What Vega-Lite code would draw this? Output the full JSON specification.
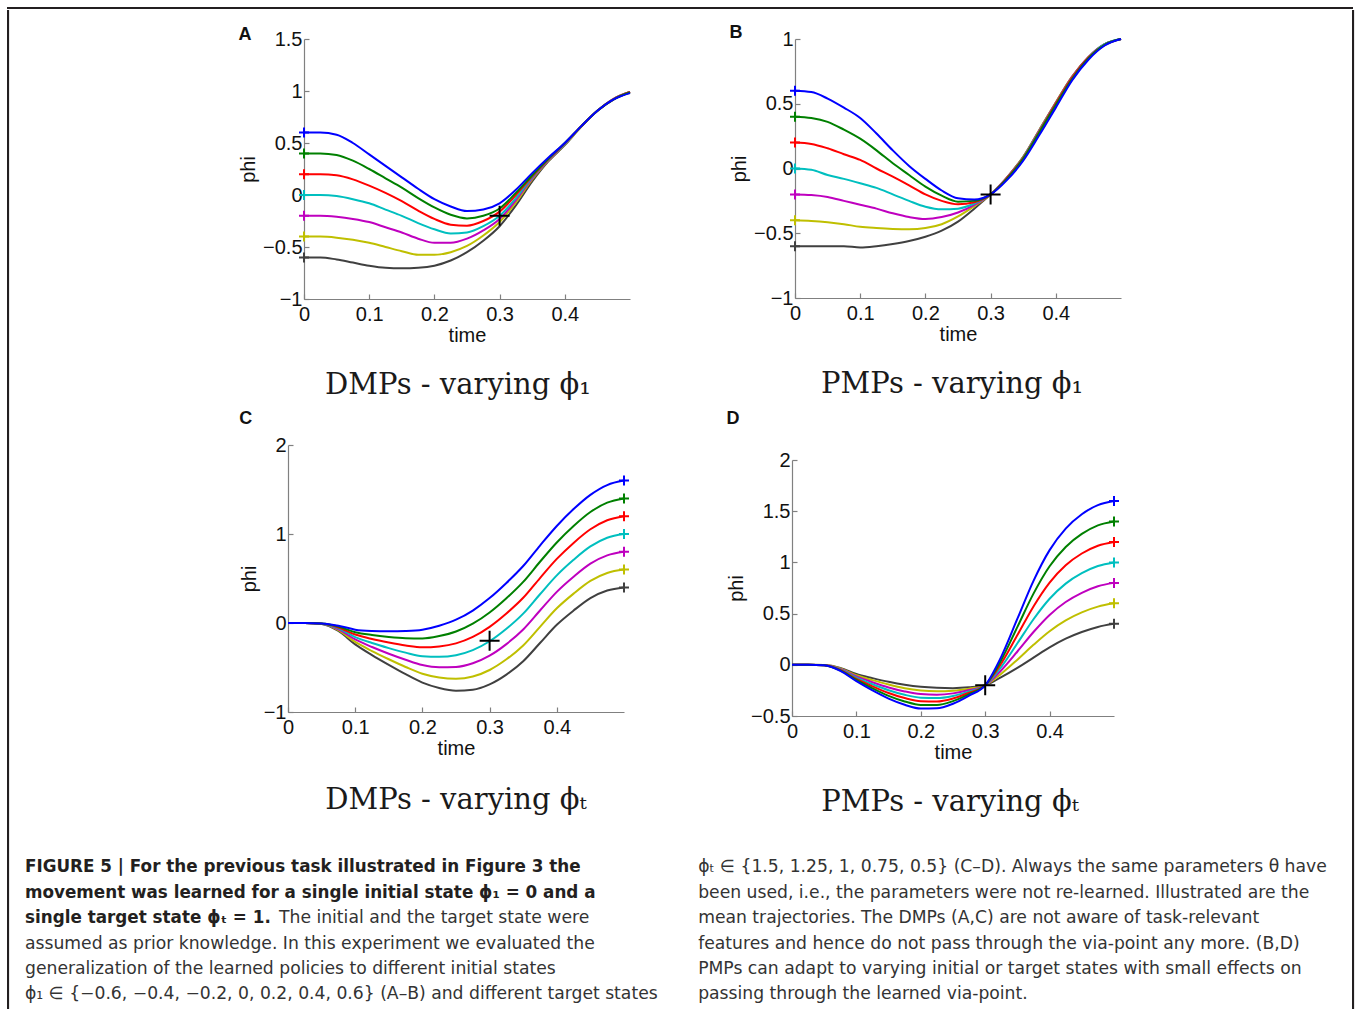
{
"$schema": "https://vega.github.io/schema/vega-lite/v6.json",
"background": "white",
"padding": {"left": 7, "top": 7, "right": 0, "bottom": 0},
"config": {
  "font": "Liberation Sans",
  "view": {"stroke": null},
  "axis": {"grid": false, "domainColor": "#808080", "domainWidth": 1.2, "tickColor": "#808080", "tickWidth": 1.2, "tickSize": -5, "labelFont": "Liberation Sans", "labelFontSize": 20, "labelColor": "#111", "titleFont": "Liberation Sans", "titleFontSize": 20, "titleFontWeight": "normal", "titleColor": "#111", "labelOverlap": false, "labelFlush": false, "labelBound": false},
  "axisX": {"labelPadding": 10, "titlePadding": 1},
  "axisY": {"labelPadding": 7, "titlePadding": 4},
  "point": {"opacity": 1}
},
"datasets": {
"A": [
{"s":0,"t":0,"v":-0.6},{"s":0,"t":0.025,"v":-0.6},{"s":0,"t":0.05,"v":-0.62},{"s":0,"t":0.075,"v":-0.65},{"s":0,"t":0.1,"v":-0.68},{"s":0,"t":0.125,"v":-0.7},{"s":0,"t":0.15,"v":-0.705},{"s":0,"t":0.175,"v":-0.7},{"s":0,"t":0.2,"v":-0.68},{"s":0,"t":0.225,"v":-0.63},{"s":0,"t":0.25,"v":-0.55},{"s":0,"t":0.275,"v":-0.44},{"s":0,"t":0.3,"v":-0.3},{"s":0,"t":0.325,"v":-0.1},{"s":0,"t":0.35,"v":0.13},{"s":0,"t":0.375,"v":0.325},{"s":0,"t":0.4,"v":0.48},{"s":0,"t":0.425,"v":0.655},{"s":0,"t":0.45,"v":0.81},{"s":0,"t":0.475,"v":0.925},{"s":0,"t":0.5,"v":0.99},
{"s":1,"t":0,"v":-0.4},{"s":1,"t":0.025,"v":-0.4},{"s":1,"t":0.05,"v":-0.41},{"s":1,"t":0.075,"v":-0.43},{"s":1,"t":0.1,"v":-0.46},{"s":1,"t":0.125,"v":-0.5},{"s":1,"t":0.15,"v":-0.54},{"s":1,"t":0.175,"v":-0.575},{"s":1,"t":0.2,"v":-0.575},{"s":1,"t":0.225,"v":-0.55},{"s":1,"t":0.25,"v":-0.49},{"s":1,"t":0.275,"v":-0.39},{"s":1,"t":0.3,"v":-0.26},{"s":1,"t":0.325,"v":-0.07},{"s":1,"t":0.35,"v":0.15},{"s":1,"t":0.375,"v":0.33},{"s":1,"t":0.4,"v":0.485},{"s":1,"t":0.425,"v":0.655},{"s":1,"t":0.45,"v":0.81},{"s":1,"t":0.475,"v":0.925},{"s":1,"t":0.5,"v":0.99},
{"s":2,"t":0,"v":-0.2},{"s":2,"t":0.025,"v":-0.2},{"s":2,"t":0.05,"v":-0.21},{"s":2,"t":0.075,"v":-0.23},{"s":2,"t":0.1,"v":-0.26},{"s":2,"t":0.125,"v":-0.31},{"s":2,"t":0.15,"v":-0.36},{"s":2,"t":0.175,"v":-0.42},{"s":2,"t":0.2,"v":-0.46},{"s":2,"t":0.225,"v":-0.46},{"s":2,"t":0.25,"v":-0.42},{"s":2,"t":0.275,"v":-0.34},{"s":2,"t":0.3,"v":-0.23},{"s":2,"t":0.325,"v":-0.05},{"s":2,"t":0.35,"v":0.16},{"s":2,"t":0.375,"v":0.335},{"s":2,"t":0.4,"v":0.49},{"s":2,"t":0.425,"v":0.66},{"s":2,"t":0.45,"v":0.81},{"s":2,"t":0.475,"v":0.925},{"s":2,"t":0.5,"v":0.99},
{"s":3,"t":0,"v":0},{"s":3,"t":0.025,"v":0},{"s":3,"t":0.05,"v":-0.01},{"s":3,"t":0.075,"v":-0.04},{"s":3,"t":0.1,"v":-0.08},{"s":3,"t":0.125,"v":-0.14},{"s":3,"t":0.15,"v":-0.2},{"s":3,"t":0.175,"v":-0.27},{"s":3,"t":0.2,"v":-0.33},{"s":3,"t":0.225,"v":-0.37},{"s":3,"t":0.25,"v":-0.36},{"s":3,"t":0.275,"v":-0.3},{"s":3,"t":0.3,"v":-0.2},{"s":3,"t":0.325,"v":-0.03},{"s":3,"t":0.35,"v":0.17},{"s":3,"t":0.375,"v":0.34},{"s":3,"t":0.4,"v":0.49},{"s":3,"t":0.425,"v":0.66},{"s":3,"t":0.45,"v":0.81},{"s":3,"t":0.475,"v":0.92},{"s":3,"t":0.5,"v":0.99},
{"s":4,"t":0,"v":0.2},{"s":4,"t":0.025,"v":0.2},{"s":4,"t":0.05,"v":0.19},{"s":4,"t":0.075,"v":0.15},{"s":4,"t":0.1,"v":0.09},{"s":4,"t":0.125,"v":0.02},{"s":4,"t":0.15,"v":-0.06},{"s":4,"t":0.175,"v":-0.15},{"s":4,"t":0.2,"v":-0.23},{"s":4,"t":0.225,"v":-0.285},{"s":4,"t":0.25,"v":-0.295},{"s":4,"t":0.275,"v":-0.25},{"s":4,"t":0.3,"v":-0.16},{"s":4,"t":0.325,"v":0},{"s":4,"t":0.35,"v":0.18},{"s":4,"t":0.375,"v":0.345},{"s":4,"t":0.4,"v":0.495},{"s":4,"t":0.425,"v":0.66},{"s":4,"t":0.45,"v":0.81},{"s":4,"t":0.475,"v":0.92},{"s":4,"t":0.5,"v":0.99},
{"s":5,"t":0,"v":0.4},{"s":5,"t":0.025,"v":0.4},{"s":5,"t":0.05,"v":0.385},{"s":5,"t":0.075,"v":0.33},{"s":5,"t":0.1,"v":0.25},{"s":5,"t":0.125,"v":0.16},{"s":5,"t":0.15,"v":0.07},{"s":5,"t":0.175,"v":-0.03},{"s":5,"t":0.2,"v":-0.12},{"s":5,"t":0.225,"v":-0.19},{"s":5,"t":0.25,"v":-0.225},{"s":5,"t":0.275,"v":-0.2},{"s":5,"t":0.3,"v":-0.13},{"s":5,"t":0.325,"v":0.02},{"s":5,"t":0.35,"v":0.19},{"s":5,"t":0.375,"v":0.35},{"s":5,"t":0.4,"v":0.5},{"s":5,"t":0.425,"v":0.66},{"s":5,"t":0.45,"v":0.81},{"s":5,"t":0.475,"v":0.92},{"s":5,"t":0.5,"v":0.985},
{"s":6,"t":0,"v":0.6},{"s":6,"t":0.025,"v":0.6},{"s":6,"t":0.05,"v":0.58},{"s":6,"t":0.075,"v":0.5},{"s":6,"t":0.1,"v":0.39},{"s":6,"t":0.125,"v":0.28},{"s":6,"t":0.15,"v":0.17},{"s":6,"t":0.175,"v":0.06},{"s":6,"t":0.2,"v":-0.04},{"s":6,"t":0.225,"v":-0.11},{"s":6,"t":0.25,"v":-0.155},{"s":6,"t":0.275,"v":-0.14},{"s":6,"t":0.3,"v":-0.08},{"s":6,"t":0.325,"v":0.05},{"s":6,"t":0.35,"v":0.21},{"s":6,"t":0.375,"v":0.36},{"s":6,"t":0.4,"v":0.5},{"s":6,"t":0.425,"v":0.66},{"s":6,"t":0.45,"v":0.81},{"s":6,"t":0.475,"v":0.92},{"s":6,"t":0.5,"v":0.98}
],
"B": [
{"s":0,"t":0,"v":-0.6},{"s":0,"t":0.025,"v":-0.6},{"s":0,"t":0.05,"v":-0.6},{"s":0,"t":0.075,"v":-0.6},{"s":0,"t":0.1,"v":-0.61},{"s":0,"t":0.125,"v":-0.6},{"s":0,"t":0.15,"v":-0.583},{"s":0,"t":0.175,"v":-0.56},{"s":0,"t":0.2,"v":-0.527},{"s":0,"t":0.225,"v":-0.48},{"s":0,"t":0.25,"v":-0.41},{"s":0,"t":0.275,"v":-0.31},{"s":0,"t":0.3,"v":-0.2},{"s":0,"t":0.325,"v":-0.07},{"s":0,"t":0.35,"v":0.09},{"s":0,"t":0.375,"v":0.3},{"s":0,"t":0.4,"v":0.51},{"s":0,"t":0.425,"v":0.71},{"s":0,"t":0.45,"v":0.86},{"s":0,"t":0.475,"v":0.96},{"s":0,"t":0.5,"v":1},
{"s":1,"t":0,"v":-0.4},{"s":1,"t":0.025,"v":-0.405},{"s":1,"t":0.05,"v":-0.415},{"s":1,"t":0.075,"v":-0.43},{"s":1,"t":0.1,"v":-0.45},{"s":1,"t":0.125,"v":-0.46},{"s":1,"t":0.15,"v":-0.467},{"s":1,"t":0.175,"v":-0.47},{"s":1,"t":0.2,"v":-0.46},{"s":1,"t":0.225,"v":-0.43},{"s":1,"t":0.25,"v":-0.37},{"s":1,"t":0.275,"v":-0.29},{"s":1,"t":0.3,"v":-0.2},{"s":1,"t":0.325,"v":-0.07},{"s":1,"t":0.35,"v":0.09},{"s":1,"t":0.375,"v":0.3},{"s":1,"t":0.4,"v":0.51},{"s":1,"t":0.425,"v":0.71},{"s":1,"t":0.45,"v":0.86},{"s":1,"t":0.475,"v":0.96},{"s":1,"t":0.5,"v":1},
{"s":2,"t":0,"v":-0.2},{"s":2,"t":0.025,"v":-0.205},{"s":2,"t":0.05,"v":-0.22},{"s":2,"t":0.075,"v":-0.25},{"s":2,"t":0.1,"v":-0.28},{"s":2,"t":0.125,"v":-0.31},{"s":2,"t":0.15,"v":-0.346},{"s":2,"t":0.175,"v":-0.375},{"s":2,"t":0.2,"v":-0.39},{"s":2,"t":0.225,"v":-0.375},{"s":2,"t":0.25,"v":-0.34},{"s":2,"t":0.275,"v":-0.28},{"s":2,"t":0.3,"v":-0.2},{"s":2,"t":0.325,"v":-0.07},{"s":2,"t":0.35,"v":0.085},{"s":2,"t":0.375,"v":0.295},{"s":2,"t":0.4,"v":0.505},{"s":2,"t":0.425,"v":0.705},{"s":2,"t":0.45,"v":0.86},{"s":2,"t":0.475,"v":0.96},{"s":2,"t":0.5,"v":1},
{"s":3,"t":0,"v":0},{"s":3,"t":0.025,"v":-0.01},{"s":3,"t":0.05,"v":-0.05},{"s":3,"t":0.075,"v":-0.08},{"s":3,"t":0.1,"v":-0.114},{"s":3,"t":0.125,"v":-0.15},{"s":3,"t":0.15,"v":-0.2},{"s":3,"t":0.175,"v":-0.25},{"s":3,"t":0.2,"v":-0.295},{"s":3,"t":0.225,"v":-0.315},{"s":3,"t":0.25,"v":-0.31},{"s":3,"t":0.275,"v":-0.27},{"s":3,"t":0.3,"v":-0.2},{"s":3,"t":0.325,"v":-0.075},{"s":3,"t":0.35,"v":0.085},{"s":3,"t":0.375,"v":0.29},{"s":3,"t":0.4,"v":0.5},{"s":3,"t":0.425,"v":0.7},{"s":3,"t":0.45,"v":0.855},{"s":3,"t":0.475,"v":0.96},{"s":3,"t":0.5,"v":1},
{"s":4,"t":0,"v":0.2},{"s":4,"t":0.025,"v":0.19},{"s":4,"t":0.05,"v":0.156},{"s":4,"t":0.075,"v":0.11},{"s":4,"t":0.1,"v":0.066},{"s":4,"t":0.125,"v":0},{"s":4,"t":0.15,"v":-0.063},{"s":4,"t":0.175,"v":-0.13},{"s":4,"t":0.2,"v":-0.2},{"s":4,"t":0.225,"v":-0.25},{"s":4,"t":0.25,"v":-0.276},{"s":4,"t":0.275,"v":-0.26},{"s":4,"t":0.3,"v":-0.2},{"s":4,"t":0.325,"v":-0.075},{"s":4,"t":0.35,"v":0.08},{"s":4,"t":0.375,"v":0.285},{"s":4,"t":0.4,"v":0.5},{"s":4,"t":0.425,"v":0.7},{"s":4,"t":0.45,"v":0.855},{"s":4,"t":0.475,"v":0.955},{"s":4,"t":0.5,"v":1},
{"s":5,"t":0,"v":0.4},{"s":5,"t":0.025,"v":0.39},{"s":5,"t":0.05,"v":0.36},{"s":5,"t":0.075,"v":0.3},{"s":5,"t":0.1,"v":0.23},{"s":5,"t":0.125,"v":0.14},{"s":5,"t":0.15,"v":0.04},{"s":5,"t":0.175,"v":-0.05},{"s":5,"t":0.2,"v":-0.14},{"s":5,"t":0.225,"v":-0.21},{"s":5,"t":0.25,"v":-0.256},{"s":5,"t":0.275,"v":-0.25},{"s":5,"t":0.3,"v":-0.2},{"s":5,"t":0.325,"v":-0.08},{"s":5,"t":0.35,"v":0.075},{"s":5,"t":0.375,"v":0.28},{"s":5,"t":0.4,"v":0.49},{"s":5,"t":0.425,"v":0.69},{"s":5,"t":0.45,"v":0.85},{"s":5,"t":0.475,"v":0.955},{"s":5,"t":0.5,"v":1},
{"s":6,"t":0,"v":0.6},{"s":6,"t":0.025,"v":0.59},{"s":6,"t":0.05,"v":0.54},{"s":6,"t":0.075,"v":0.47},{"s":6,"t":0.1,"v":0.39},{"s":6,"t":0.125,"v":0.27},{"s":6,"t":0.15,"v":0.14},{"s":6,"t":0.175,"v":0.02},{"s":6,"t":0.2,"v":-0.08},{"s":6,"t":0.225,"v":-0.17},{"s":6,"t":0.25,"v":-0.23},{"s":6,"t":0.275,"v":-0.24},{"s":6,"t":0.3,"v":-0.2},{"s":6,"t":0.325,"v":-0.09},{"s":6,"t":0.35,"v":0.06},{"s":6,"t":0.375,"v":0.26},{"s":6,"t":0.4,"v":0.47},{"s":6,"t":0.425,"v":0.68},{"s":6,"t":0.45,"v":0.84},{"s":6,"t":0.475,"v":0.95},{"s":6,"t":0.5,"v":1}
],
"C": [
{"s":0,"t":0,"v":0},{"s":0,"t":0.025,"v":0},{"s":0,"t":0.05,"v":-0.01},{"s":0,"t":0.075,"v":-0.09},{"s":0,"t":0.1,"v":-0.24},{"s":0,"t":0.125,"v":-0.36},{"s":0,"t":0.15,"v":-0.47},{"s":0,"t":0.175,"v":-0.575},{"s":0,"t":0.2,"v":-0.67},{"s":0,"t":0.225,"v":-0.73},{"s":0,"t":0.25,"v":-0.76},{"s":0,"t":0.275,"v":-0.75},{"s":0,"t":0.3,"v":-0.69},{"s":0,"t":0.325,"v":-0.58},{"s":0,"t":0.35,"v":-0.43},{"s":0,"t":0.375,"v":-0.225},{"s":0,"t":0.4,"v":-0.02},{"s":0,"t":0.425,"v":0.14},{"s":0,"t":0.45,"v":0.28},{"s":0,"t":0.475,"v":0.365},{"s":0,"t":0.5,"v":0.4},
{"s":1,"t":0,"v":0},{"s":1,"t":0.025,"v":0},{"s":1,"t":0.05,"v":-0.009},{"s":1,"t":0.075,"v":-0.08},{"s":1,"t":0.1,"v":-0.213},{"s":1,"t":0.125,"v":-0.315},{"s":1,"t":0.15,"v":-0.407},{"s":1,"t":0.175,"v":-0.494},{"s":1,"t":0.2,"v":-0.571},{"s":1,"t":0.225,"v":-0.613},{"s":1,"t":0.25,"v":-0.627},{"s":1,"t":0.275,"v":-0.602},{"s":1,"t":0.3,"v":-0.528},{"s":1,"t":0.325,"v":-0.408},{"s":1,"t":0.35,"v":-0.252},{"s":1,"t":0.375,"v":-0.043},{"s":1,"t":0.4,"v":0.165},{"s":1,"t":0.425,"v":0.33},{"s":1,"t":0.45,"v":0.473},{"s":1,"t":0.475,"v":0.562},{"s":1,"t":0.5,"v":0.6},
{"s":2,"t":0,"v":0},{"s":2,"t":0.025,"v":0},{"s":2,"t":0.05,"v":-0.008},{"s":2,"t":0.075,"v":-0.07},{"s":2,"t":0.1,"v":-0.185},{"s":2,"t":0.125,"v":-0.27},{"s":2,"t":0.15,"v":-0.345},{"s":2,"t":0.175,"v":-0.413},{"s":2,"t":0.2,"v":-0.472},{"s":2,"t":0.225,"v":-0.497},{"s":2,"t":0.25,"v":-0.494},{"s":2,"t":0.275,"v":-0.453},{"s":2,"t":0.3,"v":-0.367},{"s":2,"t":0.325,"v":-0.237},{"s":2,"t":0.35,"v":-0.073},{"s":2,"t":0.375,"v":0.14},{"s":2,"t":0.4,"v":0.35},{"s":2,"t":0.425,"v":0.52},{"s":2,"t":0.45,"v":0.667},{"s":2,"t":0.475,"v":0.76},{"s":2,"t":0.5,"v":0.8},
{"s":3,"t":0,"v":0},{"s":3,"t":0.025,"v":0},{"s":3,"t":0.05,"v":-0.008},{"s":3,"t":0.075,"v":-0.06},{"s":3,"t":0.1,"v":-0.158},{"s":3,"t":0.125,"v":-0.225},{"s":3,"t":0.15,"v":-0.282},{"s":3,"t":0.175,"v":-0.333},{"s":3,"t":0.2,"v":-0.373},{"s":3,"t":0.225,"v":-0.38},{"s":3,"t":0.25,"v":-0.362},{"s":3,"t":0.275,"v":-0.305},{"s":3,"t":0.3,"v":-0.205},{"s":3,"t":0.325,"v":-0.065},{"s":3,"t":0.35,"v":0.105},{"s":3,"t":0.375,"v":0.323},{"s":3,"t":0.4,"v":0.535},{"s":3,"t":0.425,"v":0.71},{"s":3,"t":0.45,"v":0.86},{"s":3,"t":0.475,"v":0.958},{"s":3,"t":0.5,"v":1},
{"s":4,"t":0,"v":0},{"s":4,"t":0.025,"v":0},{"s":4,"t":0.05,"v":-0.007},{"s":4,"t":0.075,"v":-0.05},{"s":4,"t":0.1,"v":-0.13},{"s":4,"t":0.125,"v":-0.18},{"s":4,"t":0.15,"v":-0.219},{"s":4,"t":0.175,"v":-0.252},{"s":4,"t":0.2,"v":-0.273},{"s":4,"t":0.225,"v":-0.263},{"s":4,"t":0.25,"v":-0.229},{"s":4,"t":0.275,"v":-0.157},{"s":4,"t":0.3,"v":-0.043},{"s":4,"t":0.325,"v":0.107},{"s":4,"t":0.35,"v":0.283},{"s":4,"t":0.375,"v":0.505},{"s":4,"t":0.4,"v":0.72},{"s":4,"t":0.425,"v":0.9},{"s":4,"t":0.45,"v":1.053},{"s":4,"t":0.475,"v":1.155},{"s":4,"t":0.5,"v":1.2},
{"s":5,"t":0,"v":0},{"s":5,"t":0.025,"v":0},{"s":5,"t":0.05,"v":-0.006},{"s":5,"t":0.075,"v":-0.04},{"s":5,"t":0.1,"v":-0.103},{"s":5,"t":0.125,"v":-0.135},{"s":5,"t":0.15,"v":-0.157},{"s":5,"t":0.175,"v":-0.171},{"s":5,"t":0.2,"v":-0.174},{"s":5,"t":0.225,"v":-0.147},{"s":5,"t":0.25,"v":-0.096},{"s":5,"t":0.275,"v":-0.008},{"s":5,"t":0.3,"v":0.118},{"s":5,"t":0.325,"v":0.278},{"s":5,"t":0.35,"v":0.462},{"s":5,"t":0.375,"v":0.688},{"s":5,"t":0.4,"v":0.905},{"s":5,"t":0.425,"v":1.09},{"s":5,"t":0.45,"v":1.247},{"s":5,"t":0.475,"v":1.352},{"s":5,"t":0.5,"v":1.4},
{"s":6,"t":0,"v":0},{"s":6,"t":0.025,"v":0},{"s":6,"t":0.05,"v":-0.005},{"s":6,"t":0.075,"v":-0.03},{"s":6,"t":0.1,"v":-0.075},{"s":6,"t":0.125,"v":-0.09},{"s":6,"t":0.15,"v":-0.094},{"s":6,"t":0.175,"v":-0.09},{"s":6,"t":0.2,"v":-0.075},{"s":6,"t":0.225,"v":-0.03},{"s":6,"t":0.25,"v":0.037},{"s":6,"t":0.275,"v":0.14},{"s":6,"t":0.3,"v":0.28},{"s":6,"t":0.325,"v":0.45},{"s":6,"t":0.35,"v":0.64},{"s":6,"t":0.375,"v":0.87},{"s":6,"t":0.4,"v":1.09},{"s":6,"t":0.425,"v":1.28},{"s":6,"t":0.45,"v":1.44},{"s":6,"t":0.475,"v":1.55},{"s":6,"t":0.5,"v":1.6}
],
"D": [
{"s":0,"t":0,"v":0},{"s":0,"t":0.025,"v":0},{"s":0,"t":0.05,"v":-0.003},{"s":0,"t":0.075,"v":-0.03},{"s":0,"t":0.1,"v":-0.09},{"s":0,"t":0.125,"v":-0.13},{"s":0,"t":0.15,"v":-0.166},{"s":0,"t":0.175,"v":-0.195},{"s":0,"t":0.2,"v":-0.215},{"s":0,"t":0.225,"v":-0.225},{"s":0,"t":0.25,"v":-0.228},{"s":0,"t":0.275,"v":-0.22},{"s":0,"t":0.3,"v":-0.2},{"s":0,"t":0.325,"v":-0.12},{"s":0,"t":0.35,"v":-0.03},{"s":0,"t":0.375,"v":0.07},{"s":0,"t":0.4,"v":0.17},{"s":0,"t":0.425,"v":0.255},{"s":0,"t":0.45,"v":0.32},{"s":0,"t":0.475,"v":0.37},{"s":0,"t":0.5,"v":0.4},
{"s":1,"t":0,"v":0},{"s":1,"t":0.025,"v":0},{"s":1,"t":0.05,"v":-0.003},{"s":1,"t":0.075,"v":-0.035},{"s":1,"t":0.1,"v":-0.102},{"s":1,"t":0.125,"v":-0.15},{"s":1,"t":0.15,"v":-0.193},{"s":1,"t":0.175,"v":-0.228},{"s":1,"t":0.2,"v":-0.25},{"s":1,"t":0.225,"v":-0.258},{"s":1,"t":0.25,"v":-0.253},{"s":1,"t":0.275,"v":-0.233},{"s":1,"t":0.3,"v":-0.2},{"s":1,"t":0.325,"v":-0.087},{"s":1,"t":0.35,"v":0.05},{"s":1,"t":0.375,"v":0.195},{"s":1,"t":0.4,"v":0.328},{"s":1,"t":0.425,"v":0.434},{"s":1,"t":0.45,"v":0.512},{"s":1,"t":0.475,"v":0.568},{"s":1,"t":0.5,"v":0.6},
{"s":2,"t":0,"v":0},{"s":2,"t":0.025,"v":0},{"s":2,"t":0.05,"v":-0.004},{"s":2,"t":0.075,"v":-0.04},{"s":2,"t":0.1,"v":-0.113},{"s":2,"t":0.125,"v":-0.17},{"s":2,"t":0.15,"v":-0.221},{"s":2,"t":0.175,"v":-0.26},{"s":2,"t":0.2,"v":-0.286},{"s":2,"t":0.225,"v":-0.292},{"s":2,"t":0.25,"v":-0.279},{"s":2,"t":0.275,"v":-0.247},{"s":2,"t":0.3,"v":-0.2},{"s":2,"t":0.325,"v":-0.053},{"s":2,"t":0.35,"v":0.13},{"s":2,"t":0.375,"v":0.32},{"s":2,"t":0.4,"v":0.487},{"s":2,"t":0.425,"v":0.613},{"s":2,"t":0.45,"v":0.703},{"s":2,"t":0.475,"v":0.767},{"s":2,"t":0.5,"v":0.8},
{"s":3,"t":0,"v":0},{"s":3,"t":0.025,"v":0},{"s":3,"t":0.05,"v":-0.004},{"s":3,"t":0.075,"v":-0.045},{"s":3,"t":0.1,"v":-0.125},{"s":3,"t":0.125,"v":-0.19},{"s":3,"t":0.15,"v":-0.248},{"s":3,"t":0.175,"v":-0.293},{"s":3,"t":0.2,"v":-0.321},{"s":3,"t":0.225,"v":-0.325},{"s":3,"t":0.25,"v":-0.304},{"s":3,"t":0.275,"v":-0.26},{"s":3,"t":0.3,"v":-0.2},{"s":3,"t":0.325,"v":-0.02},{"s":3,"t":0.35,"v":0.21},{"s":3,"t":0.375,"v":0.445},{"s":3,"t":0.4,"v":0.645},{"s":3,"t":0.425,"v":0.793},{"s":3,"t":0.45,"v":0.895},{"s":3,"t":0.475,"v":0.965},{"s":3,"t":0.5,"v":1},
{"s":4,"t":0,"v":0},{"s":4,"t":0.025,"v":0},{"s":4,"t":0.05,"v":-0.004},{"s":4,"t":0.075,"v":-0.05},{"s":4,"t":0.1,"v":-0.137},{"s":4,"t":0.125,"v":-0.21},{"s":4,"t":0.15,"v":-0.275},{"s":4,"t":0.175,"v":-0.325},{"s":4,"t":0.2,"v":-0.356},{"s":4,"t":0.225,"v":-0.358},{"s":4,"t":0.25,"v":-0.329},{"s":4,"t":0.275,"v":-0.273},{"s":4,"t":0.3,"v":-0.2},{"s":4,"t":0.325,"v":0.013},{"s":4,"t":0.35,"v":0.29},{"s":4,"t":0.375,"v":0.57},{"s":4,"t":0.4,"v":0.803},{"s":4,"t":0.425,"v":0.972},{"s":4,"t":0.45,"v":1.087},{"s":4,"t":0.475,"v":1.163},{"s":4,"t":0.5,"v":1.2},
{"s":5,"t":0,"v":0},{"s":5,"t":0.025,"v":0},{"s":5,"t":0.05,"v":-0.005},{"s":5,"t":0.075,"v":-0.055},{"s":5,"t":0.1,"v":-0.148},{"s":5,"t":0.125,"v":-0.23},{"s":5,"t":0.15,"v":-0.303},{"s":5,"t":0.175,"v":-0.358},{"s":5,"t":0.2,"v":-0.392},{"s":5,"t":0.225,"v":-0.392},{"s":5,"t":0.25,"v":-0.355},{"s":5,"t":0.275,"v":-0.287},{"s":5,"t":0.3,"v":-0.2},{"s":5,"t":0.325,"v":0.047},{"s":5,"t":0.35,"v":0.37},{"s":5,"t":0.375,"v":0.695},{"s":5,"t":0.4,"v":0.962},{"s":5,"t":0.425,"v":1.151},{"s":5,"t":0.45,"v":1.278},{"s":5,"t":0.475,"v":1.362},{"s":5,"t":0.5,"v":1.4},
{"s":6,"t":0,"v":0},{"s":6,"t":0.025,"v":0},{"s":6,"t":0.05,"v":-0.005},{"s":6,"t":0.075,"v":-0.06},{"s":6,"t":0.1,"v":-0.16},{"s":6,"t":0.125,"v":-0.25},{"s":6,"t":0.15,"v":-0.33},{"s":6,"t":0.175,"v":-0.39},{"s":6,"t":0.2,"v":-0.427},{"s":6,"t":0.225,"v":-0.425},{"s":6,"t":0.25,"v":-0.38},{"s":6,"t":0.275,"v":-0.3},{"s":6,"t":0.3,"v":-0.2},{"s":6,"t":0.325,"v":0.08},{"s":6,"t":0.35,"v":0.45},{"s":6,"t":0.375,"v":0.82},{"s":6,"t":0.4,"v":1.12},{"s":6,"t":0.425,"v":1.33},{"s":6,"t":0.45,"v":1.47},{"s":6,"t":0.475,"v":1.56},{"s":6,"t":0.5,"v":1.6}
],
"via": [{"t":0.3,"v":-0.2}],
"capBold": [
{"col":"L","line":1,"text":"FIGURE 5 | For the previous task illustrated in Figure 3 the"},
{"col":"L","line":2,"text":"movement was learned for a single initial state ϕ₁ = 0 and a"},
{"col":"L","line":3,"text":"single target state ϕₜ = 1."}
],
"capRest": [
{"col":"L","line":3,"text":"The initial and the target state were"}
],
"capNormal": [
{"col":"L","line":4,"text":"assumed as prior knowledge. In this experiment we evaluated the"},
{"col":"L","line":5,"text":"generalization of the learned policies to different initial states"},
{"col":"L","line":6,"text":"ϕ₁ ∈ {−0.6, −0.4, −0.2, 0, 0.2, 0.4, 0.6}  (A–B)  and different target states"},
{"col":"R","line":1,"text":"ϕₜ ∈ {1.5, 1.25, 1, 0.75, 0.5}  (C–D). Always the same parameters θ have"},
{"col":"R","line":2,"text":"been used, i.e., the parameters were not re-learned. Illustrated are the"},
{"col":"R","line":3,"text":"mean trajectories. The DMPs (A,C) are not aware of task-relevant"},
{"col":"R","line":4,"text":"features and hence do not pass through the via-point any more. (B,D)"},
{"col":"R","line":5,"text":"PMPs can adapt to varying initial or target states with small effects on"},
{"col":"R","line":6,"text":"passing through the learned via-point."}
]
},
"vconcat": [
  {"width": 1344, "height": 0.1, "view": {"stroke": "#231f20", "strokeWidth": 2}, "data": {"values": []}, "mark": "point"},
  {"hconcat": [
    {"width": 0.1, "height": 997, "view": {"stroke": "#231f20", "strokeWidth": 2}, "data": {"values": []}, "mark": "point"},
    {"vconcat": [
      {"width": 1, "height": 1, "data": {"values": []}, "mark": "point"},
      {"vconcat": [
        {"vconcat": [
          {"hconcat": [
            {"width": 118, "height": 1, "data": {"values": []}, "mark": "point"},
            {"title": {"text": "A", "anchor": "start", "frame": "bounds", "font": "Liberation Sans", "fontSize": 18, "fontWeight": "bold", "color": "#111", "offset": -15},
             "vconcat": [{
              "width": 326, "height": 260,
              "title": {"text": "DMPs - varying ϕ₁", "orient": "bottom", "anchor": "middle", "frame": "group", "font": "DejaVu Serif", "fontSize": 29, "fontWeight": "normal", "color": "#1a1a1a", "offset": 26, "dx": -9},
              "data": {"name": "A"},
              "encoding": {
                "x": {"field": "t", "type": "quantitative", "scale": {"domain": [0, 0.5], "nice": false, "zero": false}, "axis": {"values": [0, 0.1, 0.2, 0.3, 0.4], "format": "~g", "title": "time"}},
                "y": {"field": "v", "type": "quantitative", "scale": {"domain": [-1, 1.5], "nice": false, "zero": false}, "axis": {"values": [-1, -0.5, 0, 0.5, 1, 1.5], "format": "~g", "title": "phi"}}
              },
              "layer": [
                {"mark": {"type": "line", "strokeWidth": 2, "interpolate": "monotone"}, "encoding": {"color": {"field": "s", "type": "nominal", "scale": {"domain": [0,1,2,3,4,5,6], "range": ["#404040","#bfbf00","#bf00bf","#00bfbf","#ff0000","#008000","#0000ff"]}, "legend": null}}},
                {"transform": [{"filter": "datum.t == 0"}], "mark": {"type": "point", "shape": "M-1,0H1M0,-1V1", "filled": false, "size": 100, "strokeWidth": 2}, "encoding": {"color": {"field": "s", "type": "nominal", "scale": {"domain": [0,1,2,3,4,5,6], "range": ["#404040","#bfbf00","#bf00bf","#00bfbf","#ff0000","#008000","#0000ff"]}, "legend": null}}},
                {"data": {"name": "via"}, "mark": {"type": "point", "shape": "M-1,0H1M0,-1V1", "filled": false, "size": 400, "strokeWidth": 2, "color": "#000"}}
              ]
            }]},
            {"title": {"text": "B", "anchor": "start", "frame": "bounds", "font": "Liberation Sans", "fontSize": 18, "fontWeight": "bold", "color": "#111", "offset": -13},
             "vconcat": [{
              "width": 326, "height": 259,
              "title": {"text": "PMPs - varying ϕ₁", "orient": "bottom", "anchor": "middle", "frame": "group", "font": "DejaVu Serif", "fontSize": 29, "fontWeight": "normal", "color": "#1a1a1a", "offset": 26, "dx": -6},
              "data": {"name": "B"},
              "encoding": {
                "x": {"field": "t", "type": "quantitative", "scale": {"domain": [0, 0.5], "nice": false, "zero": false}, "axis": {"values": [0, 0.1, 0.2, 0.3, 0.4], "format": "~g", "title": "time"}},
                "y": {"field": "v", "type": "quantitative", "scale": {"domain": [-1, 1], "nice": false, "zero": false}, "axis": {"values": [-1, -0.5, 0, 0.5, 1], "format": "~g", "title": "phi"}}
              },
              "layer": [
                {"mark": {"type": "line", "strokeWidth": 2, "interpolate": "monotone"}, "encoding": {"color": {"field": "s", "type": "nominal", "scale": {"domain": [0,1,2,3,4,5,6], "range": ["#404040","#bfbf00","#bf00bf","#00bfbf","#ff0000","#008000","#0000ff"]}, "legend": null}}},
                {"transform": [{"filter": "datum.t == 0"}], "mark": {"type": "point", "shape": "M-1,0H1M0,-1V1", "filled": false, "size": 100, "strokeWidth": 2}, "encoding": {"color": {"field": "s", "type": "nominal", "scale": {"domain": [0,1,2,3,4,5,6], "range": ["#404040","#bfbf00","#bf00bf","#00bfbf","#ff0000","#008000","#0000ff"]}, "legend": null}}},
                {"data": {"name": "via"}, "mark": {"type": "point", "shape": "M-1,0H1M0,-1V1", "filled": false, "size": 400, "strokeWidth": 2, "color": "#000"}}
              ]
            }]}
          ], "spacing": 95, "align": "each"},
          {"hconcat": [
            {"width": 121, "height": 1, "data": {"values": []}, "mark": "point"},
            {"title": {"text": "C", "anchor": "start", "frame": "bounds", "font": "Liberation Sans", "fontSize": 18, "fontWeight": "bold", "color": "#111", "offset": 7},
             "vconcat": [{
              "width": 336, "height": 267,
              "title": {"text": "DMPs - varying ϕₜ", "orient": "bottom", "anchor": "middle", "frame": "group", "font": "DejaVu Serif", "fontSize": 29, "fontWeight": "normal", "color": "#1a1a1a", "offset": 28, "dx": 0},
              "data": {"name": "C"},
              "encoding": {
                "x": {"field": "t", "type": "quantitative", "scale": {"domain": [0, 0.5], "nice": false, "zero": false}, "axis": {"values": [0, 0.1, 0.2, 0.3, 0.4], "format": "~g", "title": "time"}},
                "y": {"field": "v", "type": "quantitative", "scale": {"domain": [-1, 2], "nice": false, "zero": false}, "axis": {"values": [-1, 0, 1, 2], "format": "~g", "title": "phi"}}
              },
              "layer": [
                {"mark": {"type": "line", "strokeWidth": 2, "interpolate": "monotone"}, "encoding": {"color": {"field": "s", "type": "nominal", "scale": {"domain": [0,1,2,3,4,5,6], "range": ["#404040","#bfbf00","#bf00bf","#00bfbf","#ff0000","#008000","#0000ff"]}, "legend": null}}},
                {"transform": [{"filter": "datum.t == 0.5"}], "mark": {"type": "point", "shape": "M-1,0H1M0,-1V1", "filled": false, "size": 100, "strokeWidth": 2}, "encoding": {"color": {"field": "s", "type": "nominal", "scale": {"domain": [0,1,2,3,4,5,6], "range": ["#404040","#bfbf00","#bf00bf","#00bfbf","#ff0000","#008000","#0000ff"]}, "legend": null}}},
                {"data": {"name": "via"}, "mark": {"type": "point", "shape": "M-1,0H1M0,-1V1", "filled": false, "size": 400, "strokeWidth": 2, "color": "#000"}}
              ]
            }]},
            {"title": {"text": "D", "anchor": "start", "frame": "bounds", "font": "Liberation Sans", "fontSize": 18, "fontWeight": "bold", "color": "#111", "offset": 17},
             "vconcat": [
              {"width": 1, "height": 1, "data": {"values": []}, "mark": "point"},
              {
              "width": 322, "height": 256,
              "title": {"text": "PMPs - varying ϕₜ", "orient": "bottom", "anchor": "middle", "frame": "group", "font": "DejaVu Serif", "fontSize": 29, "fontWeight": "normal", "color": "#1a1a1a", "offset": 26, "dx": -3},
              "data": {"name": "D"},
              "encoding": {
                "x": {"field": "t", "type": "quantitative", "scale": {"domain": [0, 0.5], "nice": false, "zero": false}, "axis": {"values": [0, 0.1, 0.2, 0.3, 0.4], "format": "~g", "title": "time"}},
                "y": {"field": "v", "type": "quantitative", "scale": {"domain": [-0.5, 2], "nice": false, "zero": false}, "axis": {"values": [-0.5, 0, 0.5, 1, 1.5, 2], "format": "~g", "title": "phi"}}
              },
              "layer": [
                {"mark": {"type": "line", "strokeWidth": 2, "interpolate": "monotone"}, "encoding": {"color": {"field": "s", "type": "nominal", "scale": {"domain": [0,1,2,3,4,5,6], "range": ["#404040","#bfbf00","#bf00bf","#00bfbf","#ff0000","#008000","#0000ff"]}, "legend": null}}},
                {"transform": [{"filter": "datum.t == 0.5"}], "mark": {"type": "point", "shape": "M-1,0H1M0,-1V1", "filled": false, "size": 100, "strokeWidth": 2}, "encoding": {"color": {"field": "s", "type": "nominal", "scale": {"domain": [0,1,2,3,4,5,6], "range": ["#404040","#bfbf00","#bf00bf","#00bfbf","#ff0000","#008000","#0000ff"]}, "legend": null}}},
                {"data": {"name": "via"}, "mark": {"type": "point", "shape": "M-1,0H1M0,-1V1", "filled": false, "size": 400, "strokeWidth": 2, "color": "#000"}}
              ]
            }], "spacing": 4, "align": "each"}
          ], "spacing": 93, "align": "each"}
        ], "spacing": 10, "align": "each"},
        {
          "width": 1312, "height": 152.4,
          "encoding": {
            "x": {"field": "col", "type": "nominal", "bandPosition": 0, "scale": {"type": "band", "domain": ["L", "R"], "paddingInner": 0.051, "paddingOuter": 0, "align": 0}, "axis": null},
            "y": {"field": "line", "type": "quantitative", "scale": {"domain": [0, 6], "reverse": true, "nice": false, "zero": false}, "axis": null},
            "text": {"field": "text", "type": "nominal"}
          },
          "layer": [
            {"data": {"name": "capBold"}, "mark": {"type": "text", "align": "left", "baseline": "alphabetic", "font": "DejaVu Sans", "fontSize": 16.8, "fontWeight": "bold", "color": "#231f20"}},
            {"data": {"name": "capRest"}, "mark": {"type": "text", "align": "left", "baseline": "alphabetic", "font": "DejaVu Sans", "fontSize": 17.2, "color": "#333333", "dx": 254}},
            {"data": {"name": "capNormal"}, "mark": {"type": "text", "align": "left", "baseline": "alphabetic", "font": "DejaVu Sans", "fontSize": 17.2, "color": "#333333"}}
          ]
        }
      ], "spacing": 30, "align": "each"}
    ], "spacing": 12, "align": "each"},
    {"width": 0.1, "height": 997, "view": {"stroke": "#231f20", "strokeWidth": 2}, "data": {"values": []}, "mark": "point"}
  ], "spacing": 15, "align": "each"}
],
"spacing": 0,
"align": "each"
}
